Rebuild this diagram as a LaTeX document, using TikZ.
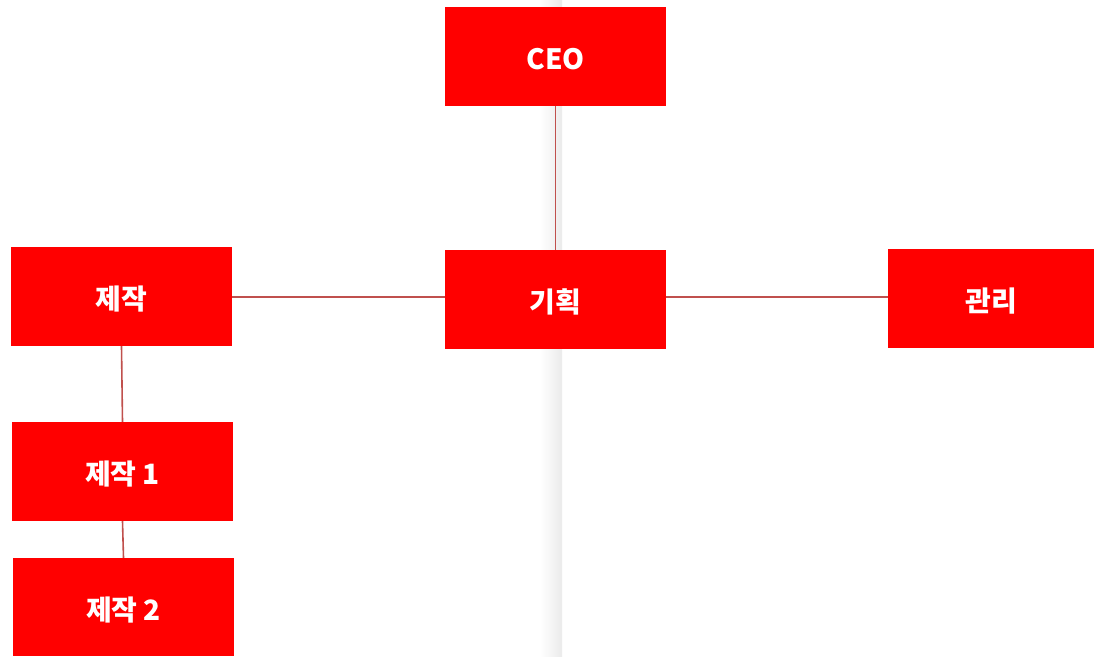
\documentclass[tikz,border=0pt]{standalone}
\usepackage{fontspec}
\newfontfamily\krfont{Noto Sans CJK KR}
\definecolor{boxred}{RGB}{255,0,0}
\definecolor{linkred}{RGB}{192,80,77}
\begin{document}
\begin{tikzpicture}[x=1pt,y=-1pt,
  box/.style={fill=boxred, minimum width=221pt, minimum height=99pt, inner sep=0pt,
    text height=26pt, text depth=0pt,
    text=white, font=\krfont\bfseries\fontsize{28}{30}\selectfont},
  link/.style={draw=linkred, line width=1.6pt}]
\useasboundingbox (0,0) rectangle (1095,656);
\fill[white] (0,0) rectangle (1095,656);
\shade[left color=white, right color=black!8] (540,0) rectangle (562,656);

\node[box] (ceo) at (555.5,56.5) {CEO};
\node[box] (plan) at (555.5,299.5) {기획};
\node[box] (make) at (121.5,296.5) {제작};
\node[box, minimum width=206pt] (admin) at (991,298.5) {관리};
\node[box] (make1) at (122.5,471.5) {제작 1};
\node[box, minimum height=98pt] (make2) at (123.5,607) {제작 2};

\draw[link] (ceo.south) -- (plan.north);
\draw[link] (make.east |- 0,297) -- (plan.west |- 0,297);
\draw[link] (plan.east |- 0,297) -- (admin.west |- 0,297);
\draw[link] (make.south) -- (make1.north);
\draw[link] (make1.south) -- (make2.north);

\end{tikzpicture}
\end{document}
